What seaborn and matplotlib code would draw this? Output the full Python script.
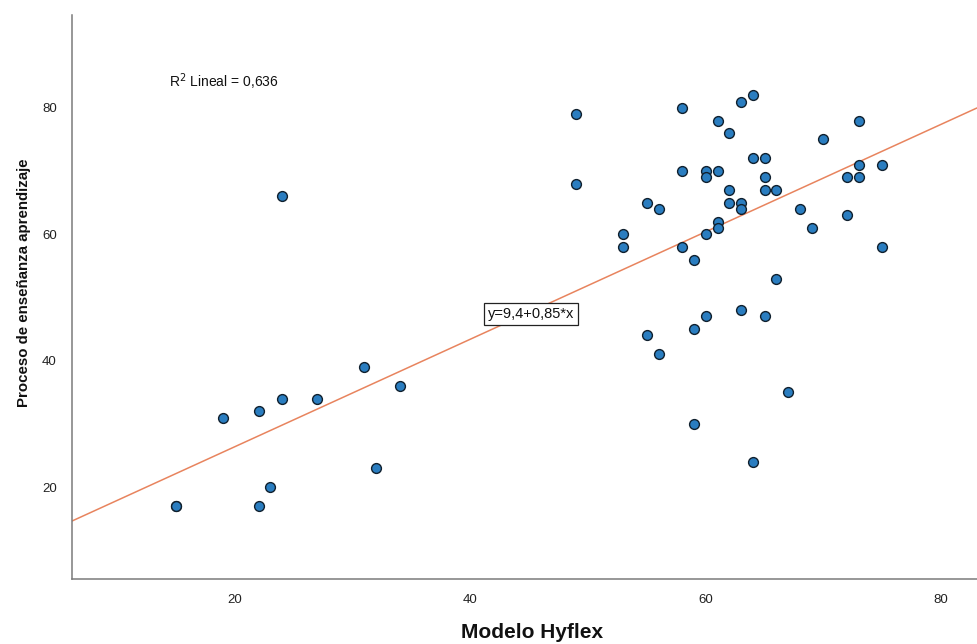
import matplotlib
matplotlib.use("Agg")
import matplotlib.pyplot as plt
import seaborn as sns
import pandas as pd

# ---- data ----
modelo_hyflex = [15, 15, 19, 22, 22, 23, 24, 24, 27, 31, 32, 34,
                 49, 49, 53, 53, 55, 55, 56, 56, 58, 58, 58, 59, 59, 59,
                 60, 60, 60, 60, 61, 61, 61, 61, 62, 62, 62, 63, 63, 63, 63,
                 64, 64, 64, 65, 65, 65, 65, 66, 66, 67, 68, 69, 70, 72, 72,
                 73, 73, 73, 75, 75]
proceso_ea = [17, 17, 31, 32, 17, 20, 34, 66, 34, 39, 23, 36,
              79, 68, 60, 58, 65, 44, 64, 41, 80, 70, 58, 56, 45, 30,
              70, 69, 60, 47, 78, 70, 62, 61, 76, 67, 65, 81, 65, 64, 48,
              82, 72, 24, 72, 69, 67, 47, 67, 53, 35, 64, 61, 75, 69, 63,
              78, 71, 69, 71, 58]
fit_intercept = 9.4
fit_slope = 0.85
r2_text = "R$^2$ Lineal = 0,636"
eq_text = "y=9,4+0,85*x"
x_ticks = [20, 40, 60, 80]
y_ticks = [20, 40, 60, 80]
x_label = "Modelo Hyflex"
y_label = "Proceso de enseñanza aprendizaje"

df = pd.DataFrame({"x": modelo_hyflex, "y": proceso_ea})

sns.set_theme(style="white")
plt.rcParams["font.family"] = ["Liberation Sans", "DejaVu Sans"]

fig = plt.figure(figsize=(9.77, 6.44), dpi=100)
ax = fig.add_axes([0.0737, 0.1009, 0.9263, 0.8758])

ax.axline((0, fit_intercept), slope=fit_slope, color="#E8845E", lw=1.1, zorder=1)
sns.scatterplot(data=df, x="x", y="y", ax=ax, s=50, color="#2A7DC0",
                edgecolor="#10202e", linewidth=1.0, zorder=3)

ax.set_xlim(6.15, 83.05)
ax.set_ylim(5.45, 94.7)
ax.set_xticks(x_ticks)
ax.set_yticks(y_ticks)
ax.tick_params(axis="both", length=0, labelsize=9.5, colors="#222222")
ax.tick_params(axis="x", pad=11)
ax.tick_params(axis="y", pad=11)

for side in ["top", "right"]:
    ax.spines[side].set_visible(False)
for side in ["left", "bottom"]:
    ax.spines[side].set_color("#7a7a7a")
    ax.spines[side].set_linewidth(1.1)

ax.set_xlabel(x_label, fontsize=15, fontweight="bold", color="#111111")
ax.set_ylabel(y_label, fontsize=10.8, fontweight="bold", color="#111111")
ax.xaxis.set_label_coords(0.508, -0.0957)
ax.xaxis.label.set_va("center")
ax.yaxis.set_label_coords(-0.053, 0.525)
ax.yaxis.label.set_va("center")

ax.text(0.107, 0.881, r2_text, transform=ax.transAxes, ha="left", va="center",
        fontsize=10, color="#111111")
ax.text(0.507, 0.47, eq_text, transform=ax.transAxes, ha="center", va="center",
        fontsize=10.5, color="#111111",
        bbox=dict(boxstyle="square,pad=0.25", fc="white", ec="#222222", lw=0.9))

fig.savefig("out.png", dpi=100)
